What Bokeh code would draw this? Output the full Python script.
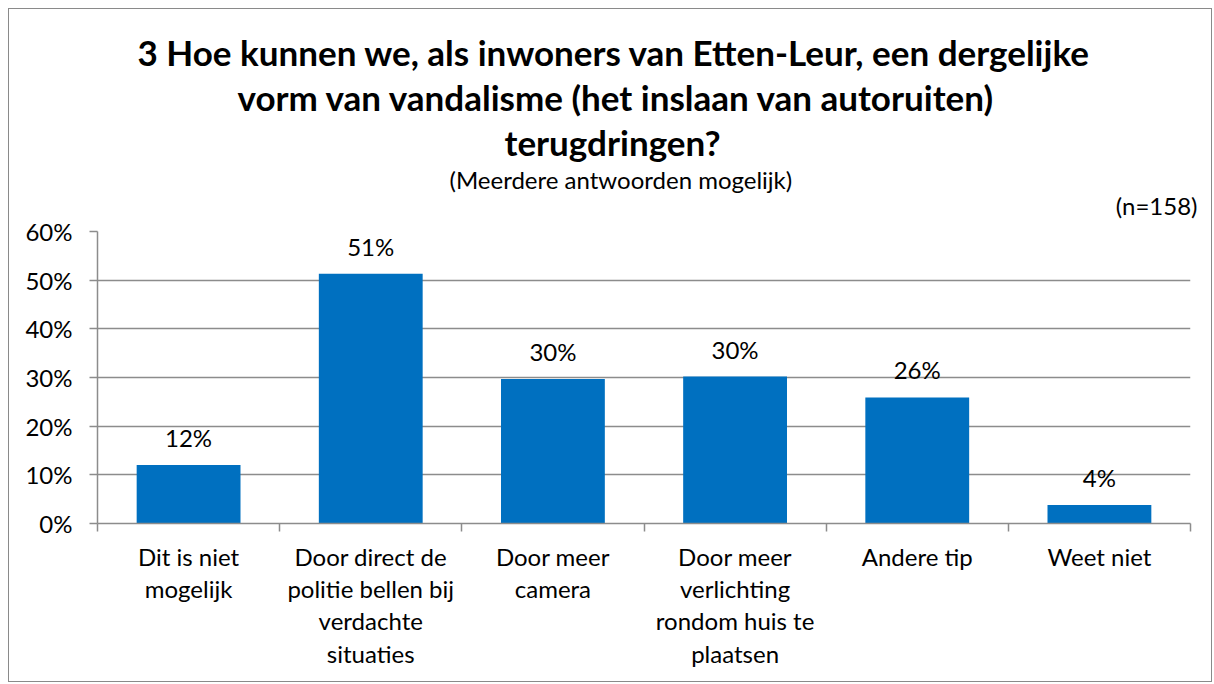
from bokeh.plotting import figure
from bokeh.models import Range1d, FixedTicker, NumeralTickFormatter, LabelSet, ColumnDataSource, Title
from bokeh.embed import file_html
from bokeh.resources import INLINE
from bokeh.core.properties import value

title_lines = [
    "3 Hoe kunnen we, als inwoners van Etten-Leur, een dergelijke",
    "vorm van vandalisme (het inslaan van autoruiten)",
    "terugdringen?",
]
subtitle = "(Meerdere antwoorden mogelijk)"
note = "(n=158)"
categories = [
    "Dit is niet\nmogelijk",
    "Door direct de\npolitie bellen bij\nverdachte\nsituaties",
    "Door meer\ncamera",
    "Door meer\nverlichting\nrondom huis te\nplaatsen",
    "Andere tip",
    "Weet niet",
]
shares = [0.12, 0.513, 0.297, 0.302, 0.259, 0.038]
share_labels = ["12%", "51%", "30%", "30%", "26%", "4%"]
y_ticks = [0.0, 0.1, 0.2, 0.3, 0.4, 0.5, 0.6]

FONT = "Lato"
GRAY = "#8c8c8c"
BLUE = "#0070C0"
FS = "24px"

n = len(categories)
centers = [i + 0.5 for i in range(n)]
bounds = [float(i) for i in range(n + 1)]

p = figure(
    width=1204, height=674,
    x_range=Range1d(0, n), y_range=Range1d(0, 0.6),
    output_backend="svg", toolbar_location=None, tools="",
    min_border_left=88, min_border_right=23, min_border_top=222, min_border_bottom=160,
    background_fill_color="white", border_fill_color="white",
)
p.outline_line_color = None
p.styles = {"margin-left": "8px", "margin-top": "8px", "border": "1px solid #8a8a8a"}

src = ColumnDataSource(dict(x=centers, top=shares, lab=share_labels))
p.vbar(x="x", top="top", width=0.57, bottom=0, source=src, fill_color=BLUE, line_color=None)

p.add_layout(LabelSet(x="x", y="top", text="lab", source=src, y_offset=13,
                      text_align="center", text_baseline="bottom",
                      text_font=value(FONT), text_font_size=FS, text_color="#000000"))

# axes
xa = p.xaxis[0]
xa.ticker = FixedTicker(ticks=centers, minor_ticks=bounds)
xa.major_label_overrides = {c: lab for c, lab in zip(centers, categories)}
xa.major_tick_line_color = None
xa.major_tick_out = 0
xa.major_tick_in = 0
xa.minor_tick_line_color = GRAY
xa.minor_tick_line_width = 1.5
xa.minor_tick_out = 8
xa.minor_tick_in = 0
xa.axis_line_color = GRAY
xa.axis_line_width = 1.5
xa.major_label_text_font = FONT
xa.major_label_text_font_size = FS
xa.major_label_text_color = "#000000"
xa.major_label_text_line_height = 1.12
xa.major_label_standoff = 10

ya = p.yaxis[0]
ya.ticker = FixedTicker(ticks=y_ticks)
ya.formatter = NumeralTickFormatter(format="0%")
ya.minor_tick_line_color = None
ya.major_tick_line_color = GRAY
ya.major_tick_line_width = 1.5
ya.major_tick_out = 8
ya.major_tick_in = 0
ya.axis_line_color = GRAY
ya.axis_line_width = 1.5
ya.major_label_text_font = FONT
ya.major_label_text_font_size = FS
ya.major_label_text_color = "#000000"
ya.major_label_standoff = 17

p.xgrid.grid_line_color = None
p.ygrid.ticker = FixedTicker(ticks=y_ticks)
p.ygrid.grid_line_color = GRAY
p.ygrid.grid_line_width = 1.5

# heading panels, stacked outward from the plot frame
p.add_layout(Title(text=note, align="right", offset=-7, standoff=24,
                   text_font=FONT, text_font_size=FS, text_font_style="normal",
                   text_color="#000000"), "above")
p.add_layout(Title(text=subtitle, align="left", offset=352, standoff=-34,
                   text_font=FONT, text_font_size=FS, text_font_style="normal",
                   text_color="#000000"), "above")
for txt, so, off in zip(reversed(title_lines), [28, -27, 30], [407, 140, 40]):
    p.add_layout(Title(text=txt, align="left", offset=off, standoff=so,
                       text_font=FONT, text_font_size="35px", text_font_style="bold",
                       text_color="#000000"), "above")

open("out.html", "w").write(file_html(p, INLINE))
